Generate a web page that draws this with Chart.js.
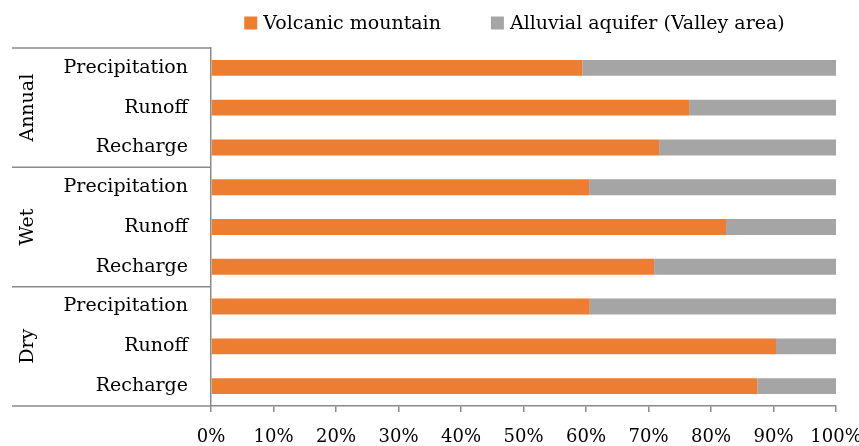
<!DOCTYPE html>
<html lang="en">

<head>
    <meta charset="UTF-8">
    <title>Volcanic mountain vs alluvial aquifer</title>
    <script src="https://cdn.jsdelivr.net/npm/chart.js"></script>
    <style>
        html, body { margin: 0; padding: 0; background: #fff; }
        #wrap { position: relative; width: 859px; height: 446px; }
    </style>
</head>

<body>
    <div id="wrap"><canvas id="myChart" width="859" height="446"></canvas></div>
    <script>
        // data (percent of total)
        const categories = ['Precipitation', 'Runoff', 'Recharge',
                            'Precipitation', 'Runoff', 'Recharge',
                            'Precipitation', 'Runoff', 'Recharge'];
        const groups = ['Annual', 'Wet', 'Dry'];
        const groupSize = [3, 3, 3];
        const seriesNames = ['Volcanic mountain', 'Alluvial aquifer (Valley area)'];
        const volcanic = [59.4, 76.5, 71.7, 60.5, 82.4, 70.9, 60.6, 90.4, 87.4];
        const alluvial = [40.6, 23.5, 28.3, 39.5, 17.6, 29.1, 39.4, 9.6, 12.6];
        const xTicks = [0, 10, 20, 30, 40, 50, 60, 70, 80, 90, 100];

        const FONT = "'DejaVu Serif', serif";
        const LINE = '#8a8a8a';

        // group labels + separators on the left of the y axis
        const groupPlugin = {
            id: 'groupPlugin',
            afterDraw(chart) {
                const ctx = chart.ctx;
                const area = chart.chartArea;
                const step = (area.bottom - area.top) / categories.length;
                ctx.save();
                ctx.strokeStyle = LINE;
                ctx.lineWidth = 1.5;
                let idx = 0;
                const edges = [area.top];
                groups.forEach((g, i) => {
                    idx += groupSize[i];
                    edges.push(area.top + idx * step);
                });
                edges.forEach(e => {
                    ctx.beginPath();
                    ctx.moveTo(12, e);
                    ctx.lineTo(area.left, e);
                    ctx.stroke();
                });
                ctx.fillStyle = '#000';
                ctx.font = '19px ' + FONT;
                ctx.textAlign = 'center';
                ctx.textBaseline = 'middle';
                groups.forEach((g, i) => {
                    const cy = (edges[i] + edges[i + 1]) / 2;
                    ctx.save();
                    ctx.translate(28, cy);
                    ctx.rotate(-Math.PI / 2);
                    ctx.fillText(g, 0, 0);
                    ctx.restore();
                });
                ctx.restore();
            }
        };

        // legend centred over the plot area
        const legendPlugin = {
            id: 'legendPlugin',
            afterDraw(chart) {
                const ctx = chart.ctx;
                const area = chart.chartArea;
                const box = 13, gap = 6, itemGap = 50, cy = 23;
                ctx.save();
                ctx.font = '19px ' + FONT;
                ctx.textBaseline = 'middle';
                ctx.textAlign = 'left';
                const ds = chart.data.datasets;
                const widths = ds.map(d => box + gap + ctx.measureText(d.label).width);
                const total = widths.reduce((a, b) => a + b, 0) + itemGap * (ds.length - 1);
                let x = (area.left + area.right) / 2 - total / 2 - 9;
                ds.forEach((d, i) => {
                    ctx.fillStyle = d.backgroundColor;
                    ctx.fillRect(x, cy - box / 2, box, box);
                    ctx.fillStyle = '#000';
                    ctx.fillText(d.label, x + box + gap, cy + 1);
                    x += widths[i] + itemGap;
                });
                ctx.restore();
            }
        };

        new Chart(document.getElementById('myChart'), {
            type: 'bar',
            data: {
                labels: categories,
                datasets: [{
                    label: seriesNames[0],
                    data: volcanic,
                    backgroundColor: '#ED7D31',
                    barPercentage: 0.4,
                    categoryPercentage: 1
                }, {
                    label: seriesNames[1],
                    data: alluvial,
                    backgroundColor: '#A5A5A5',
                    barPercentage: 0.4,
                    categoryPercentage: 1
                }]
            },
            options: {
                indexAxis: 'y',
                responsive: false,
                animation: false,
                layout: { padding: { top: 48, left: 0, right: 0, bottom: 0 } },
                plugins: {
                    legend: { display: false },
                    tooltip: { enabled: false }
                },
                scales: {
                    x: {
                        stacked: true,
                        min: 0,
                        max: 100,
                        afterBuildTicks: s => { s.ticks = xTicks.map(v => ({ value: v })); },
                        afterFit: s => { s.height = 40; s.paddingRight = 23; },
                        grid: { drawOnChartArea: false, color: LINE, tickLength: 6, lineWidth: 1.5 },
                        border: { color: LINE, width: 1.5 },
                        ticks: {
                            color: '#000',
                            padding: 15,
                            font: { family: FONT, size: 18 },
                            callback: v => v + '%'
                        }
                    },
                    y: {
                        stacked: true,
                        afterFit: s => { s.width = 211; },
                        grid: { display: false, drawTicks: false },
                        border: { color: LINE, width: 1.5 },
                        ticks: {
                            color: '#000',
                            padding: 23,
                            font: { family: FONT, size: 19 }
                        }
                    }
                }
            },
            plugins: [groupPlugin, legendPlugin]
        });
    </script>
</body>

</html>
